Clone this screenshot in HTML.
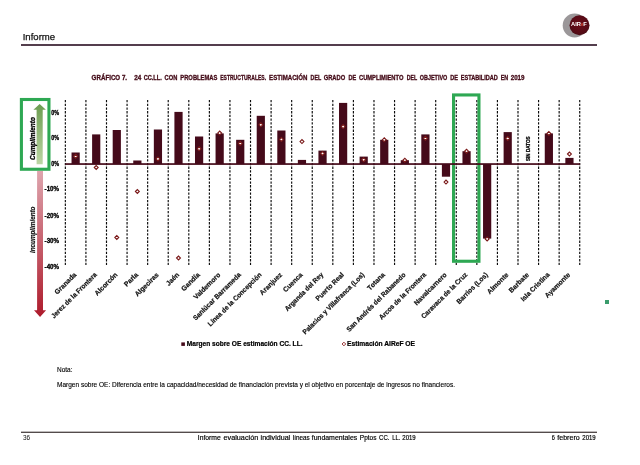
<!DOCTYPE html>
<html><head><meta charset="utf-8"><title>Informe</title>
<style>
html,body{margin:0;padding:0;background:#fff;}
body{width:640px;height:465px;overflow:hidden;font-family:"Liberation Sans",sans-serif;}
svg{display:block;will-change:transform}
text{font-family:"Liberation Sans",sans-serif;}
</style></head><body>
<svg width="640" height="465" viewBox="0 0 640 465">
<defs>
<linearGradient id="gg" x1="0" y1="1" x2="0" y2="0"><stop offset="0" stop-color="#bcd6a4"/><stop offset="1" stop-color="#6b9c50"/></linearGradient>
<linearGradient id="rg" x1="0" y1="0" x2="0" y2="1"><stop offset="0" stop-color="#dea5ae"/><stop offset="1" stop-color="#ad1a2b"/></linearGradient>
<radialGradient id="lg" cx="0.5" cy="0.45" r="0.55"><stop offset="0" stop-color="#6a0c18"/><stop offset="0.8" stop-color="#560b16"/><stop offset="1" stop-color="#4a1018"/></radialGradient>
</defs>
<rect width="640" height="465" fill="#fff"/>

<text x="22.7" y="40.3" font-size="9.7" fill="#111" stroke="#111" stroke-width="0.25" textLength="32.4" lengthAdjust="spacingAndGlyphs">Informe</text>
<rect x="21" y="44.2" width="576" height="1.6" fill="#2b0f22"/>
<circle cx="574.6" cy="25.5" r="11.9" fill="#9b9799"/>
<circle cx="579.5" cy="25.2" r="10" fill="url(#lg)"/>
<text x="571" y="26.1" font-size="6.2" font-weight="bold" fill="#fff" textLength="15.8" lengthAdjust="spacingAndGlyphs">AIR<tspan fill="#d8452f" font-size="4.6">e</tspan>F</text>
<text x="91.6" y="79.9" font-size="6.8" font-weight="bold" fill="#430a17" stroke="#430a17" stroke-width="0.3" textLength="35.5" lengthAdjust="spacingAndGlyphs">GRÁFICO 7.</text>
<text x="134.2" y="79.9" font-size="6.8" font-weight="bold" fill="#430a17" stroke="#430a17" stroke-width="0.3" textLength="7.0" lengthAdjust="spacingAndGlyphs">24</text>
<text x="143.7" y="79.9" font-size="6.8" font-weight="bold" fill="#430a17" stroke="#430a17" stroke-width="0.3" textLength="18.1" lengthAdjust="spacingAndGlyphs">CC.LL.</text>
<text x="164.6" y="79.9" font-size="6.8" font-weight="bold" fill="#430a17" stroke="#430a17" stroke-width="0.3" textLength="12.7" lengthAdjust="spacingAndGlyphs">CON</text>
<text x="180.3" y="79.9" font-size="6.8" font-weight="bold" fill="#430a17" stroke="#430a17" stroke-width="0.3" textLength="37.1" lengthAdjust="spacingAndGlyphs">PROBLEMAS</text>
<text x="220.2" y="79.9" font-size="6.8" font-weight="bold" fill="#430a17" stroke="#430a17" stroke-width="0.3" textLength="45.9" lengthAdjust="spacingAndGlyphs">ESTRUCTURALES.</text>
<text x="269.1" y="79.9" font-size="6.8" font-weight="bold" fill="#430a17" stroke="#430a17" stroke-width="0.3" textLength="38.3" lengthAdjust="spacingAndGlyphs">ESTIMACIÓN</text>
<text x="310.6" y="79.9" font-size="6.8" font-weight="bold" fill="#430a17" stroke="#430a17" stroke-width="0.3" textLength="10.6" lengthAdjust="spacingAndGlyphs">DEL</text>
<text x="323.7" y="79.9" font-size="6.8" font-weight="bold" fill="#430a17" stroke="#430a17" stroke-width="0.3" textLength="21.5" lengthAdjust="spacingAndGlyphs">GRADO</text>
<text x="348.4" y="79.9" font-size="6.8" font-weight="bold" fill="#430a17" stroke="#430a17" stroke-width="0.3" textLength="7.7" lengthAdjust="spacingAndGlyphs">DE</text>
<text x="359.0" y="79.9" font-size="6.8" font-weight="bold" fill="#430a17" stroke="#430a17" stroke-width="0.3" textLength="44.4" lengthAdjust="spacingAndGlyphs">CUMPLIMIENTO</text>
<text x="406.8" y="79.9" font-size="6.8" font-weight="bold" fill="#430a17" stroke="#430a17" stroke-width="0.3" textLength="10.4" lengthAdjust="spacingAndGlyphs">DEL</text>
<text x="419.7" y="79.9" font-size="6.8" font-weight="bold" fill="#430a17" stroke="#430a17" stroke-width="0.3" textLength="27.6" lengthAdjust="spacingAndGlyphs">OBJETIVO</text>
<text x="450.2" y="79.9" font-size="6.8" font-weight="bold" fill="#430a17" stroke="#430a17" stroke-width="0.3" textLength="7.8" lengthAdjust="spacingAndGlyphs">DE</text>
<text x="460.7" y="79.9" font-size="6.8" font-weight="bold" fill="#430a17" stroke="#430a17" stroke-width="0.3" textLength="37.2" lengthAdjust="spacingAndGlyphs">ESTABILIDAD</text>
<text x="500.7" y="79.9" font-size="6.8" font-weight="bold" fill="#430a17" stroke="#430a17" stroke-width="0.3" textLength="7.5" lengthAdjust="spacingAndGlyphs">EN</text>
<text x="510.7" y="79.9" font-size="6.8" font-weight="bold" fill="#430a17" stroke="#430a17" stroke-width="0.3" textLength="13.8" lengthAdjust="spacingAndGlyphs">2019</text>
<line x1="65.35" y1="100" x2="65.35" y2="265" stroke="#0a0a0a" stroke-width="1.15" stroke-dasharray="2.3 1.4"/>
<line x1="85.92" y1="100" x2="85.92" y2="265" stroke="#0a0a0a" stroke-width="1.15" stroke-dasharray="2.3 1.4"/>
<line x1="106.50" y1="100" x2="106.50" y2="265" stroke="#0a0a0a" stroke-width="1.15" stroke-dasharray="2.3 1.4"/>
<line x1="127.07" y1="100" x2="127.07" y2="265" stroke="#0a0a0a" stroke-width="1.15" stroke-dasharray="2.3 1.4"/>
<line x1="147.65" y1="100" x2="147.65" y2="265" stroke="#0a0a0a" stroke-width="1.15" stroke-dasharray="2.3 1.4"/>
<line x1="168.22" y1="100" x2="168.22" y2="265" stroke="#0a0a0a" stroke-width="1.15" stroke-dasharray="2.3 1.4"/>
<line x1="188.80" y1="100" x2="188.80" y2="265" stroke="#0a0a0a" stroke-width="1.15" stroke-dasharray="2.3 1.4"/>
<line x1="209.38" y1="100" x2="209.38" y2="265" stroke="#0a0a0a" stroke-width="1.15" stroke-dasharray="2.3 1.4"/>
<line x1="229.95" y1="100" x2="229.95" y2="265" stroke="#0a0a0a" stroke-width="1.15" stroke-dasharray="2.3 1.4"/>
<line x1="250.52" y1="100" x2="250.52" y2="265" stroke="#0a0a0a" stroke-width="1.15" stroke-dasharray="2.3 1.4"/>
<line x1="271.10" y1="100" x2="271.10" y2="265" stroke="#0a0a0a" stroke-width="1.15" stroke-dasharray="2.3 1.4"/>
<line x1="291.67" y1="100" x2="291.67" y2="265" stroke="#0a0a0a" stroke-width="1.15" stroke-dasharray="2.3 1.4"/>
<line x1="312.25" y1="100" x2="312.25" y2="265" stroke="#0a0a0a" stroke-width="1.15" stroke-dasharray="2.3 1.4"/>
<line x1="332.82" y1="100" x2="332.82" y2="265" stroke="#0a0a0a" stroke-width="1.15" stroke-dasharray="2.3 1.4"/>
<line x1="353.40" y1="100" x2="353.40" y2="265" stroke="#0a0a0a" stroke-width="1.15" stroke-dasharray="2.3 1.4"/>
<line x1="373.98" y1="100" x2="373.98" y2="265" stroke="#0a0a0a" stroke-width="1.15" stroke-dasharray="2.3 1.4"/>
<line x1="394.55" y1="100" x2="394.55" y2="265" stroke="#0a0a0a" stroke-width="1.15" stroke-dasharray="2.3 1.4"/>
<line x1="415.12" y1="100" x2="415.12" y2="265" stroke="#0a0a0a" stroke-width="1.15" stroke-dasharray="2.3 1.4"/>
<line x1="435.70" y1="100" x2="435.70" y2="265" stroke="#0a0a0a" stroke-width="1.15" stroke-dasharray="2.3 1.4"/>
<line x1="456.27" y1="100" x2="456.27" y2="265" stroke="#0a0a0a" stroke-width="1.15" stroke-dasharray="2.3 1.4"/>
<line x1="476.85" y1="100" x2="476.85" y2="265" stroke="#0a0a0a" stroke-width="1.15" stroke-dasharray="2.3 1.4"/>
<line x1="497.42" y1="100" x2="497.42" y2="265" stroke="#0a0a0a" stroke-width="1.15" stroke-dasharray="2.3 1.4"/>
<line x1="518.00" y1="100" x2="518.00" y2="265" stroke="#0a0a0a" stroke-width="1.15" stroke-dasharray="2.3 1.4"/>
<line x1="538.57" y1="100" x2="538.57" y2="265" stroke="#0a0a0a" stroke-width="1.15" stroke-dasharray="2.3 1.4"/>
<line x1="559.15" y1="100" x2="559.15" y2="265" stroke="#0a0a0a" stroke-width="1.15" stroke-dasharray="2.3 1.4"/>
<line x1="579.73" y1="100" x2="579.73" y2="265" stroke="#0a0a0a" stroke-width="1.15" stroke-dasharray="2.3 1.4"/>
<polygon points="36.6,164.3 36.6,109.7 33.4,109.7 39.65,104 45.9,109.7 42.7,109.7 42.7,164.3" fill="url(#gg)"/>
<polygon points="37.1,171 37.1,310.2 34,310.2 40.05,317 46.1,310.2 43,310.2 43,171" fill="url(#rg)"/>
<rect x="21.4" y="99.5" width="27.55" height="69.75" fill="none" stroke="#2ea853" stroke-width="3.1"/>
<rect x="453.55" y="94.95" width="25.4" height="166.3" fill="none" stroke="#2ea853" stroke-width="3.1"/>
<rect x="605" y="300" width="4" height="4" fill="#3a9c6c"/>
<text transform="translate(34.5,159.9) rotate(-90)" font-size="7" font-weight="bold" font-style="italic" fill="#000" stroke="#000" stroke-width="0.35" textLength="42.7" lengthAdjust="spacingAndGlyphs">Cumplimiento</text>
<text transform="translate(34.8,253) rotate(-90)" font-size="6.8" font-weight="bold" font-style="italic" fill="#111" stroke="#111" stroke-width="0.2" textLength="46.4" lengthAdjust="spacingAndGlyphs">Incumplimiento</text>
<text x="59.1" y="114.8" font-size="6.3" font-weight="bold" fill="#000" stroke="#000" stroke-width="0.3" text-anchor="end" textLength="7.9" lengthAdjust="spacingAndGlyphs">0%</text>
<text x="59.1" y="140.2" font-size="6.3" font-weight="bold" fill="#000" stroke="#000" stroke-width="0.3" text-anchor="end" textLength="7.9" lengthAdjust="spacingAndGlyphs">0%</text>
<text x="59.1" y="165.7" font-size="6.3" font-weight="bold" fill="#000" stroke="#000" stroke-width="0.3" text-anchor="end" textLength="7.9" lengthAdjust="spacingAndGlyphs">0%</text>
<text x="59.1" y="191.4" font-size="6.3" font-weight="bold" fill="#000" stroke="#000" stroke-width="0.3" text-anchor="end" textLength="14.5" lengthAdjust="spacingAndGlyphs">-10%</text>
<text x="59.1" y="217.6" font-size="6.3" font-weight="bold" fill="#000" stroke="#000" stroke-width="0.3" text-anchor="end" textLength="14.5" lengthAdjust="spacingAndGlyphs">-20%</text>
<text x="59.1" y="242.8" font-size="6.3" font-weight="bold" fill="#000" stroke="#000" stroke-width="0.3" text-anchor="end" textLength="14.5" lengthAdjust="spacingAndGlyphs">-30%</text>
<text x="59.1" y="268.8" font-size="6.3" font-weight="bold" fill="#000" stroke="#000" stroke-width="0.3" text-anchor="end" textLength="14.5" lengthAdjust="spacingAndGlyphs">-40%</text>
<rect x="71.54" y="152.50" width="8.2" height="11.50" fill="#450a1a"/>
<rect x="92.11" y="134.40" width="8.2" height="29.60" fill="#450a1a"/>
<rect x="112.69" y="130.00" width="8.2" height="34.00" fill="#450a1a"/>
<rect x="133.26" y="160.50" width="8.2" height="3.50" fill="#450a1a"/>
<rect x="153.84" y="129.50" width="8.2" height="34.50" fill="#450a1a"/>
<rect x="174.41" y="111.90" width="8.2" height="52.10" fill="#450a1a"/>
<rect x="194.99" y="136.50" width="8.2" height="27.50" fill="#450a1a"/>
<rect x="215.56" y="133.40" width="8.2" height="30.60" fill="#450a1a"/>
<rect x="236.14" y="139.80" width="8.2" height="24.20" fill="#450a1a"/>
<rect x="256.71" y="115.80" width="8.2" height="48.20" fill="#450a1a"/>
<rect x="277.29" y="130.50" width="8.2" height="33.50" fill="#450a1a"/>
<rect x="297.86" y="159.90" width="8.2" height="4.10" fill="#450a1a"/>
<rect x="318.44" y="150.60" width="8.2" height="13.40" fill="#450a1a"/>
<rect x="339.01" y="102.90" width="8.2" height="61.10" fill="#450a1a"/>
<rect x="359.59" y="156.60" width="8.2" height="7.40" fill="#450a1a"/>
<rect x="380.16" y="139.80" width="8.2" height="24.20" fill="#450a1a"/>
<rect x="400.74" y="160.20" width="8.2" height="3.80" fill="#450a1a"/>
<rect x="421.31" y="134.40" width="8.2" height="29.60" fill="#450a1a"/>
<rect x="441.89" y="164.00" width="8.2" height="12.70" fill="#450a1a"/>
<rect x="462.46" y="151.20" width="8.2" height="12.80" fill="#450a1a"/>
<rect x="483.04" y="164.00" width="8.2" height="74.60" fill="#450a1a"/>
<rect x="503.61" y="132.10" width="8.2" height="31.90" fill="#450a1a"/>
<rect x="544.76" y="133.40" width="8.2" height="30.60" fill="#450a1a"/>
<rect x="565.34" y="157.90" width="8.2" height="6.10" fill="#450a1a"/>
<rect x="65.3" y="163.20" width="514.8" height="1.7" fill="#450a1a"/>
<polygon points="73.69,156.30 75.64,154.35 77.59,156.30 75.64,158.25" fill="#fff" stroke="#7a1818" stroke-width="1.1"/>
<polygon points="94.26,167.50 96.21,165.55 98.16,167.50 96.21,169.45" fill="#fff" stroke="#7a1818" stroke-width="1.1"/>
<polygon points="114.84,237.40 116.79,235.45 118.74,237.40 116.79,239.35" fill="#fff" stroke="#7a1818" stroke-width="1.1"/>
<polygon points="135.41,191.50 137.36,189.55 139.31,191.50 137.36,193.45" fill="#fff" stroke="#7a1818" stroke-width="1.1"/>
<polygon points="155.99,158.90 157.94,156.95 159.89,158.90 157.94,160.85" fill="#fff" stroke="#7a1818" stroke-width="1.1"/>
<polygon points="176.56,258.00 178.51,256.05 180.46,258.00 178.51,259.95" fill="#fff" stroke="#7a1818" stroke-width="1.1"/>
<polygon points="197.14,148.80 199.09,146.85 201.04,148.80 199.09,150.75" fill="#fff" stroke="#7a1818" stroke-width="1.1"/>
<polygon points="217.71,133.10 219.66,131.15 221.61,133.10 219.66,135.05" fill="#fff" stroke="#7a1818" stroke-width="1.1"/>
<polygon points="238.29,143.40 240.24,141.45 242.19,143.40 240.24,145.35" fill="#fff" stroke="#7a1818" stroke-width="1.1"/>
<polygon points="258.86,124.80 260.81,122.85 262.76,124.80 260.81,126.75" fill="#fff" stroke="#7a1818" stroke-width="1.1"/>
<polygon points="279.44,139.50 281.39,137.55 283.34,139.50 281.39,141.45" fill="#fff" stroke="#7a1818" stroke-width="1.1"/>
<polygon points="300.01,141.60 301.96,139.65 303.91,141.60 301.96,143.55" fill="#fff" stroke="#7a1818" stroke-width="1.1"/>
<polygon points="320.59,153.50 322.54,151.55 324.49,153.50 322.54,155.45" fill="#fff" stroke="#7a1818" stroke-width="1.1"/>
<polygon points="341.16,126.60 343.11,124.65 345.06,126.60 343.11,128.55" fill="#fff" stroke="#7a1818" stroke-width="1.1"/>
<polygon points="361.74,159.70 363.69,157.75 365.64,159.70 363.69,161.65" fill="#fff" stroke="#7a1818" stroke-width="1.1"/>
<polygon points="382.31,139.80 384.26,137.85 386.21,139.80 384.26,141.75" fill="#fff" stroke="#7a1818" stroke-width="1.1"/>
<polygon points="402.89,160.20 404.84,158.25 406.79,160.20 404.84,162.15" fill="#fff" stroke="#7a1818" stroke-width="1.1"/>
<polygon points="423.46,138.30 425.41,136.35 427.36,138.30 425.41,140.25" fill="#fff" stroke="#7a1818" stroke-width="1.1"/>
<polygon points="444.04,182.10 445.99,180.15 447.94,182.10 445.99,184.05" fill="#fff" stroke="#7a1818" stroke-width="1.1"/>
<polygon points="464.61,151.20 466.56,149.25 468.51,151.20 466.56,153.15" fill="#fff" stroke="#7a1818" stroke-width="1.1"/>
<polygon points="485.19,238.90 487.14,236.95 489.09,238.90 487.14,240.85" fill="#fff" stroke="#7a1818" stroke-width="1.1"/>
<polygon points="505.76,138.50 507.71,136.55 509.66,138.50 507.71,140.45" fill="#fff" stroke="#7a1818" stroke-width="1.1"/>
<polygon points="546.91,133.40 548.86,131.45 550.81,133.40 548.86,135.35" fill="#fff" stroke="#7a1818" stroke-width="1.1"/>
<polygon points="567.49,154.00 569.44,152.05 571.39,154.00 569.44,155.95" fill="#fff" stroke="#7a1818" stroke-width="1.1"/>
<text transform="translate(529.89,161) rotate(-90)" font-size="4.8" font-weight="bold" fill="#000" stroke="#000" stroke-width="0.25" textLength="24.5" lengthAdjust="spacingAndGlyphs">SIN DATOS</text>
<text transform="translate(76.84,275.25) rotate(-45)" font-size="6.9" font-weight="bold" fill="#111" stroke="#111" stroke-width="0.2" text-anchor="end" textLength="27.55" lengthAdjust="spacingAndGlyphs">Granada</text>
<text transform="translate(97.41,275.25) rotate(-45)" font-size="6.9" font-weight="bold" fill="#111" stroke="#111" stroke-width="0.2" text-anchor="end" textLength="61.53" lengthAdjust="spacingAndGlyphs">Jerez de la Frontera</text>
<text transform="translate(117.99,275.25) rotate(-45)" font-size="6.9" font-weight="bold" fill="#111" stroke="#111" stroke-width="0.2" text-anchor="end" textLength="29.43" lengthAdjust="spacingAndGlyphs">Alcorcón</text>
<text transform="translate(138.56,275.25) rotate(-45)" font-size="6.9" font-weight="bold" fill="#111" stroke="#111" stroke-width="0.2" text-anchor="end" textLength="16.61" lengthAdjust="spacingAndGlyphs">Parla</text>
<text transform="translate(159.14,275.25) rotate(-45)" font-size="6.9" font-weight="bold" fill="#111" stroke="#111" stroke-width="0.2" text-anchor="end" textLength="30.57" lengthAdjust="spacingAndGlyphs">Algeciras</text>
<text transform="translate(179.71,275.25) rotate(-45)" font-size="6.9" font-weight="bold" fill="#111" stroke="#111" stroke-width="0.2" text-anchor="end" textLength="15.48" lengthAdjust="spacingAndGlyphs">Jaén</text>
<text transform="translate(200.29,275.25) rotate(-45)" font-size="6.9" font-weight="bold" fill="#111" stroke="#111" stroke-width="0.2" text-anchor="end" textLength="23.01" lengthAdjust="spacingAndGlyphs">Gandía</text>
<text transform="translate(220.86,275.25) rotate(-45)" font-size="6.9" font-weight="bold" fill="#111" stroke="#111" stroke-width="0.2" text-anchor="end" textLength="34.71" lengthAdjust="spacingAndGlyphs">Valdemoro</text>
<text transform="translate(241.44,275.25) rotate(-45)" font-size="6.9" font-weight="bold" fill="#111" stroke="#111" stroke-width="0.2" text-anchor="end" textLength="64.48" lengthAdjust="spacingAndGlyphs">Sanlúcar Barrameda</text>
<text transform="translate(262.01,275.25) rotate(-45)" font-size="6.9" font-weight="bold" fill="#111" stroke="#111" stroke-width="0.2" text-anchor="end" textLength="72.74" lengthAdjust="spacingAndGlyphs">Línea de la Concepción</text>
<text transform="translate(282.59,275.25) rotate(-45)" font-size="6.9" font-weight="bold" fill="#111" stroke="#111" stroke-width="0.2" text-anchor="end" textLength="28.67" lengthAdjust="spacingAndGlyphs">Aranjuez</text>
<text transform="translate(303.16,275.25) rotate(-45)" font-size="6.9" font-weight="bold" fill="#111" stroke="#111" stroke-width="0.2" text-anchor="end" textLength="24.53" lengthAdjust="spacingAndGlyphs">Cuenca</text>
<text transform="translate(323.74,275.25) rotate(-45)" font-size="6.9" font-weight="bold" fill="#111" stroke="#111" stroke-width="0.2" text-anchor="end" textLength="51.38" lengthAdjust="spacingAndGlyphs">Arganda del Rey</text>
<text transform="translate(344.31,275.25) rotate(-45)" font-size="6.9" font-weight="bold" fill="#111" stroke="#111" stroke-width="0.2" text-anchor="end" textLength="36.84" lengthAdjust="spacingAndGlyphs">Puerto Real</text>
<text transform="translate(364.89,275.25) rotate(-45)" font-size="6.9" font-weight="bold" fill="#111" stroke="#111" stroke-width="0.2" text-anchor="end" textLength="84.21" lengthAdjust="spacingAndGlyphs">Palacios y Villafranca (Los)</text>
<text transform="translate(385.46,275.25) rotate(-45)" font-size="6.9" font-weight="bold" fill="#111" stroke="#111" stroke-width="0.2" text-anchor="end" textLength="21.75" lengthAdjust="spacingAndGlyphs">Totana</text>
<text transform="translate(406.04,275.25) rotate(-45)" font-size="6.9" font-weight="bold" fill="#111" stroke="#111" stroke-width="0.2" text-anchor="end" textLength="80.46" lengthAdjust="spacingAndGlyphs">San Andrés del Rabanedo</text>
<text transform="translate(426.61,275.25) rotate(-45)" font-size="6.9" font-weight="bold" fill="#111" stroke="#111" stroke-width="0.2" text-anchor="end" textLength="63.33" lengthAdjust="spacingAndGlyphs">Arcos de la Frontera</text>
<text transform="translate(447.19,275.25) rotate(-45)" font-size="6.9" font-weight="bold" fill="#111" stroke="#111" stroke-width="0.2" text-anchor="end" textLength="43.02" lengthAdjust="spacingAndGlyphs">Navalcarnero</text>
<text transform="translate(467.76,275.25) rotate(-45)" font-size="6.9" font-weight="bold" fill="#111" stroke="#111" stroke-width="0.2" text-anchor="end" textLength="61.90" lengthAdjust="spacingAndGlyphs">Caravaca de la Cruz</text>
<text transform="translate(488.34,275.25) rotate(-45)" font-size="6.9" font-weight="bold" fill="#111" stroke="#111" stroke-width="0.2" text-anchor="end" textLength="41.26" lengthAdjust="spacingAndGlyphs">Barrios (Los)</text>
<text transform="translate(508.91,275.25) rotate(-45)" font-size="6.9" font-weight="bold" fill="#111" stroke="#111" stroke-width="0.2" text-anchor="end" textLength="27.16" lengthAdjust="spacingAndGlyphs">Almonte</text>
<text transform="translate(529.49,275.25) rotate(-45)" font-size="6.9" font-weight="bold" fill="#111" stroke="#111" stroke-width="0.2" text-anchor="end" textLength="25.29" lengthAdjust="spacingAndGlyphs">Barbate</text>
<text transform="translate(550.06,275.25) rotate(-45)" font-size="6.9" font-weight="bold" fill="#111" stroke="#111" stroke-width="0.2" text-anchor="end" textLength="37.59" lengthAdjust="spacingAndGlyphs">Isla Cristina</text>
<text transform="translate(570.64,275.25) rotate(-45)" font-size="6.9" font-weight="bold" fill="#111" stroke="#111" stroke-width="0.2" text-anchor="end" textLength="32.57" lengthAdjust="spacingAndGlyphs">Ayamonte</text>
<rect x="181.3" y="342.4" width="3.6" height="3.5" fill="#450a1a"/>
<text x="186.8" y="346.3" font-size="6.6" font-weight="bold" fill="#000" stroke="#000" stroke-width="0.2" textLength="115.7" lengthAdjust="spacingAndGlyphs">Margen sobre OE estimación CC. LL.</text>
<polygon points="342.1,344 343.9,342.2 345.7,344 343.9,345.8" fill="#fff" stroke="#8a1818" stroke-width="0.9"/>
<text x="347" y="346.3" font-size="6.6" font-weight="bold" fill="#000" stroke="#000" stroke-width="0.2" textLength="68" lengthAdjust="spacingAndGlyphs">Estimación AIReF OE</text>
<text x="57" y="371.8" font-size="6.4" fill="#000" stroke="#000" stroke-width="0.12" textLength="15.5" lengthAdjust="spacingAndGlyphs">Nota:</text>
<text x="57" y="387.2" font-size="6.4" fill="#000" stroke="#000" stroke-width="0.12" textLength="398" lengthAdjust="spacingAndGlyphs">Margen sobre OE: Diferencia entre la capacidad/necesidad de financiación prevista y el objetivo en porcentaje de ingresos no financieros.</text>
<rect x="21" y="431.7" width="576" height="1.1" fill="#2a2020"/>
<text x="23" y="440" font-size="7" fill="#111" textLength="7.2" lengthAdjust="spacingAndGlyphs">36</text>
<text x="197.80" y="439.5" font-size="7" fill="#000" stroke="#000" stroke-width="0.18" textLength="22.90" lengthAdjust="spacingAndGlyphs">Informe</text>
<text x="223.55" y="439.5" font-size="7" fill="#000" stroke="#000" stroke-width="0.18" textLength="34.65" lengthAdjust="spacingAndGlyphs">evaluación</text>
<text x="260.55" y="439.5" font-size="7" fill="#000" stroke="#000" stroke-width="0.18" textLength="29.65" lengthAdjust="spacingAndGlyphs">individual</text>
<text x="292.80" y="439.5" font-size="7" fill="#000" stroke="#000" stroke-width="0.18" textLength="16.90" lengthAdjust="spacingAndGlyphs">líneas</text>
<text x="311.80" y="439.5" font-size="7" fill="#000" stroke="#000" stroke-width="0.18" textLength="45.40" lengthAdjust="spacingAndGlyphs">fundamentales</text>
<text x="359.80" y="439.5" font-size="7" fill="#000" stroke="#000" stroke-width="0.18" textLength="16.65" lengthAdjust="spacingAndGlyphs">Pptos</text>
<text x="379.05" y="439.5" font-size="7" fill="#000" stroke="#000" stroke-width="0.18" textLength="10.40" lengthAdjust="spacingAndGlyphs">CC.</text>
<text x="392.30" y="439.5" font-size="7" fill="#000" stroke="#000" stroke-width="0.18" textLength="7.90" lengthAdjust="spacingAndGlyphs">LL.</text>
<text x="402.30" y="439.5" font-size="7" fill="#000" stroke="#000" stroke-width="0.18" textLength="13.40" lengthAdjust="spacingAndGlyphs">2019</text>
<text x="551.80" y="439.5" font-size="7" fill="#000" stroke="#000" stroke-width="0.18" textLength="3.10" lengthAdjust="spacingAndGlyphs">6</text>
<text x="557.30" y="439.5" font-size="7" fill="#000" stroke="#000" stroke-width="0.18" textLength="22.40" lengthAdjust="spacingAndGlyphs">febrero</text>
<text x="582.30" y="439.5" font-size="7" fill="#000" stroke="#000" stroke-width="0.18" textLength="13.40" lengthAdjust="spacingAndGlyphs">2019</text>
</svg></body></html>
